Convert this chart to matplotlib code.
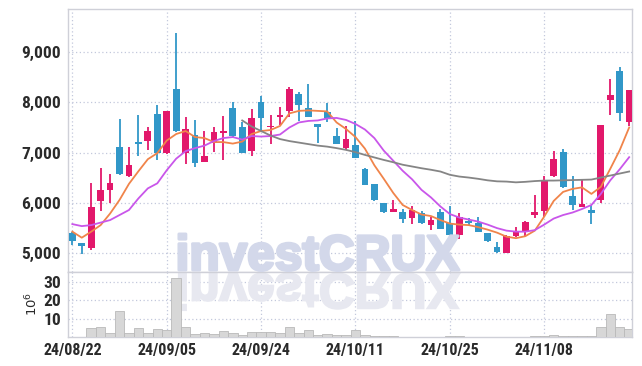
import numpy as np
import matplotlib.pyplot as plt
import matplotlib.patheffects as pe
from matplotlib import font_manager
from matplotlib.textpath import TextPath
from matplotlib.font_manager import FontProperties
from matplotlib.patches import PathPatch
from matplotlib.transforms import Affine2D, IdentityTransform
from matplotlib.ticker import FuncFormatter

# daily prices (KRW), 60 sessions from 24/08/22
opens = [5400, 5200, 5100, 6030, 6250, 7110, 6540, 7200, 7240, 7770,
         7000, 8270, 7000, 7350, 6820, 7200, 7390, 7890, 7510, 7040,
         8000, 7500, 7700, 7830, 8160, 7890, 7570, 7810, 7330, 7100,
         7150, 6680, 6380, 6000, 5830, 5820, 5710, 5810, 5560, 5820,
         5600, 5360, 5640, 5610, 5400, 5130, 5010, 5350, 5420, 5760,
         5850, 6530, 7010, 6130, 5920, 5860, 6060, 8050, 8630, 7600]
highs = [5430, 5200, 6400, 6700, 6570, 7660, 7120, 7750, 7510, 7950,
         7830, 9380, 7700, 7640, 7440, 7510, 7730, 8000, 7610, 7870,
         8130, 7750, 7900, 8300, 8200, 8360, 7570, 7990, 7490, 7520,
         7620, 6690, 6380, 6000, 6050, 5880, 5930, 5840, 5730, 5880,
         5930, 5800, 5710, 5730, 5400, 5220, 5360, 5530, 5650, 6150,
         6540, 7040, 7080, 6530, 6450, 5960, 7540, 8460, 8700, 8250]
lows = [5170, 4980, 5070, 5850, 5990, 6560, 6510, 6940, 7050, 6850,
        6980, 7410, 6780, 6710, 6820, 7020, 6850, 7290, 7000, 6930,
        7430, 7170, 7550, 7700, 7620, 7700, 7190, 7610, 7170, 7060,
        6890, 6360, 6030, 5800, 5830, 5600, 5580, 5580, 5460, 5480,
        5350, 5280, 5540, 5420, 5230, 5010, 5010, 5330, 5350, 5710,
        5720, 6510, 6290, 5870, 5920, 5580, 5990, 7740, 7620, 7530]
closes = [5250, 5150, 5910, 6260, 6390, 6580, 6760, 7180, 7430, 7000,
          7830, 7430, 7470, 6800, 6940, 7410, 7430, 7330, 7000, 7690,
          7680, 7530, 7740, 8270, 7940, 7700, 7510, 7690, 7180, 7280,
          6900, 6360, 6050, 5830, 5880, 5680, 5860, 5610, 5660, 5480,
          5360, 5720, 5600, 5430, 5250, 5030, 5350, 5420, 5630, 5820,
          6450, 6870, 6310, 5960, 5970, 5800, 7540, 8140, 7790, 8250]

ma5 = [5430, 5310, 5430, 5560, 5790, 6060, 6380, 6630, 6870, 6990,
       7240, 7370, 7430, 7310, 7290, 7210, 7210, 7180, 7220, 7370,
       7430, 7450, 7530, 7780, 7830, 7840, 7830, 7820, 7600, 7470,
       7310, 7080, 6750, 6480, 6200, 5960, 5860, 5770, 5740, 5660,
       5590, 5570, 5560, 5520, 5470, 5410, 5330, 5300, 5340, 5450,
       5730, 6040, 6220, 6280, 6310, 6180, 6320, 6680, 7050, 7500]
ma10 = [5580, 5540, 5560, 5610, 5660, 5760, 5860, 6090, 6290, 6390,
        6650, 6880, 7030, 7090, 7140, 7230, 7290, 7310, 7260, 7330,
        7320, 7330, 7360, 7500, 7600, 7630, 7640, 7680, 7690, 7650,
        7570, 7460, 7290, 7040, 6840, 6640, 6470, 6260, 6110, 5930,
        5780, 5710, 5670, 5630, 5570, 5500, 5450, 5430, 5430, 5460,
        5570, 5690, 5760, 5810, 5880, 5960, 6180, 6450, 6670, 6910]
# long average, shown from session 18 on
ma_long_start = 18
ma_long = [7640, 7520, 7430, 7340, 7270, 7230, 7200, 7170, 7140, 7120,
           7090, 7055, 7010, 6955, 6905, 6855, 6810, 6760, 6725, 6690,
           6660, 6625, 6560, 6525, 6505, 6480, 6450, 6430, 6425, 6410,
           6420, 6435, 6445, 6445, 6450, 6455, 6460, 6465, 6505, 6545,
           6585, 6625]

# volume in millions of shares
volume = [0, 0, 4.8, 5.3, 2.0, 14.0, 2.0, 4.7, 2.0, 4.2,
          3.7, 31.8, 5.3, 1.4, 2.0, 1.4, 3.0, 2.0, 1.0, 2.6,
          2.6, 2.6, 2.0, 5.3, 2.0, 3.6, 1.0, 1.4, 1.0, 1.0,
          3.6, 1.0, 0.4, 0.4, 0.4, 0.1, 0.1, 0.1, 0.1, 0.1,
          0.4, 0.4, 0.1, 0.1, 0.1, 0.1, 0.1, 0.1, 0.1, 0.4,
          0.6, 0.9, 0.3, 0.3, 0.3, 0.3, 5.7, 12.3, 5.3, 4.2]

tick_pos = [0, 10, 20, 30, 40, 50]
tick_labels = ['24/08/22', '24/09/05', '24/09/24', '24/10/11', '24/10/25', '24/11/08']

UP = '#e2186b'
DOWN = '#3197c8'
GRID = '#c3c8dc'
EDGE = '#cfd0d8'
TXT = '#2a2a2a'

# pick the narrowest bold face we have for the tick labels
ttf = font_manager.fontManager.ttflist
names = {f.name for f in ttf}
stretch = 'normal'
tick_family = 'Roboto'
for cand in ['Liberation Sans Narrow', 'Roboto Condensed', 'Open Sans Condensed']:
    if cand in names:
        tick_family = cand
        break
else:
    if any(f.name == 'DejaVu Sans' and f.stretch == 'condensed' and f.weight in (700, 'bold') for f in ttf):
        tick_family = 'DejaVu Sans'
        stretch = 'condensed'

W, H = 642, 366
fig = plt.figure(figsize=(W / 100, H / 100), dpi=100)
ax = fig.add_axes([68 / W, 1 - 272 / H, 564 / W, 263 / H])
axv = fig.add_axes([68 / W, 1 - 337 / H, 564 / W, 65 / H], sharex=ax)

x = np.arange(len(closes))
o = np.array(opens)
c = np.array(closes)
colors = [UP if cc >= oo else DOWN for oo, cc in zip(o, c)]
bottoms = np.minimum(o, c)
heights = np.maximum(np.abs(c - o), 25)

ax.vlines(x, lows, highs, colors=colors, linewidth=1.3, zorder=3)
ax.bar(x, heights, bottom=bottoms, width=0.72, color=colors, linewidth=0, zorder=4)

ax.plot(x, ma5, color='#f0844a', lw=1.3, zorder=5)
ax.plot(x, ma10, color='#c956ea', lw=1.3, zorder=5)
ax.plot(x[ma_long_start:], ma_long, color='#858585', lw=1.3, zorder=5)

ax.set_xlim(-0.46, 59.3)
ax.set_ylim(4628, 9855)
ax.set_yticks([5000, 6000, 7000, 8000, 9000])
ax.yaxis.set_major_formatter(FuncFormatter(lambda v, p: f'{int(v):,}'))

axv.bar(x, volume, width=1.0, color='#d7d7d7', edgecolor='#b9b9b9', linewidth=0.6, zorder=3)
axv.set_ylim(0, 35.3)
axv.set_yticks([10, 20, 30])
axv.set_xticks(tick_pos)
axv.set_xticklabels(tick_labels)

for a in (ax, axv):
    a.set_facecolor('white')
    a.grid(True, color=GRID, linestyle=(0, (1, 2)), linewidth=0.9)
    a.set_axisbelow(True)
    for s in a.spines.values():
        s.set_color(EDGE)
        s.set_linewidth(1.0)
    a.tick_params(length=0, pad=5, colors=TXT)
    for lab in a.get_yticklabels():
        lab.set_fontfamily([tick_family, 'DejaVu Sans'])
        lab.set_fontstretch(stretch)
        lab.set_fontweight('bold')
        lab.set_fontsize(12.5)
for lab in axv.get_xticklabels():
    lab.set_fontfamily([tick_family, 'DejaVu Sans'])
    lab.set_fontstretch(stretch)
    lab.set_fontweight('bold')
    lab.set_fontsize(11.5)
ax.tick_params(labelbottom=False)
axv.tick_params(axis='x', pad=4)

fig.text(32 / W, 1 - 304 / H, r'$10^6$', rotation=90, ha='center', va='center',
         fontsize=9.5, color=TXT)

# watermark as text, with a flipped copy below it
wm_fp = FontProperties(family=['Liberation Sans', 'DejaVu Sans'], weight='bold')
tp = TextPath((0, 0), 'investCRUX', size=1, prop=wm_fp)
ext = tp.get_extents()
px = 280 / ext.width
wm = fig.text(179 / W - ext.x0 * px / W, 1 - 270 / H, 'investCRUX', fontproperties=wm_fp,
              fontsize=px * 0.72, color='#d3d8ea', ha='left', va='baseline', zorder=0.5)
wm.set_path_effects([pe.withStroke(linewidth=2.2, foreground='#d3d8ea')])
ax.set_facecolor('none')
fig.patch.set_facecolor('white')
mir_tr = Affine2D().scale(px, -px).translate(179 - ext.x0 * px, H - 274)
axv.add_patch(PathPatch(mir_tr.transform_path(tp), transform=IdentityTransform(),
                        facecolor='#e7e8f0', edgecolor='#e7e8f0', linewidth=1.6, zorder=1))

fig.savefig('out.png', dpi=100)
